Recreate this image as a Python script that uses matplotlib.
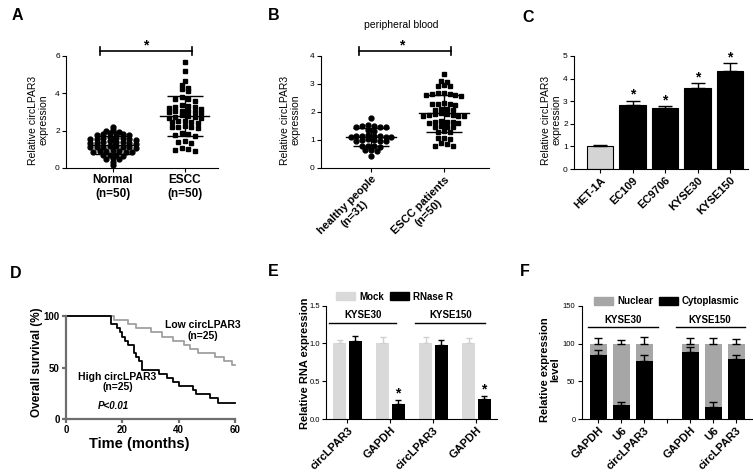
import numpy as np
import matplotlib
matplotlib.use('Agg')
import matplotlib.pyplot as plt
from matplotlib.patches import Patch

plt.rcParams['font.family'] = ['Liberation Sans', 'DejaVu Sans']

# ── data ──
# A: tissue
normal_vals = [2.2,
               2.02, 1.98, 1.95,
               1.85, 1.83, 1.8, 1.8, 1.78, 1.75,
               1.65, 1.62, 1.6, 1.6, 1.58, 1.55, 1.55, 1.52,
               1.42, 1.4, 1.4, 1.38, 1.35, 1.35, 1.32, 1.3,
               1.2, 1.18, 1.15, 1.15, 1.12, 1.1, 1.1, 1.08,
               0.95, 0.93, 0.9, 0.9, 0.88, 0.85, 0.85,
               0.72, 0.7, 0.68, 0.65,
               0.52, 0.5, 0.48,
               0.3, 0.15]
escc_vals = [5.69, 5.2, 4.68,
             4.45, 4.3, 4.25, 4.1,
             3.78, 3.72, 3.68, 3.6,
             3.35, 3.3, 3.28, 3.25, 3.22, 3.18,
             3.08, 3.05, 3.03, 3.0, 2.98, 2.95,
             2.82, 2.78, 2.75, 2.72, 2.7, 2.68,
             2.52, 2.5, 2.47, 2.45, 2.42,
             2.25, 2.22, 2.2, 2.18, 2.15,
             1.85, 1.8, 1.75, 1.72,
             1.42, 1.38, 1.35,
             1.08, 1.02, 0.95, 0.92]
a_labels = ['Normal\n(n=50)', 'ESCC\n(n=50)']

# B: peripheral blood
healthy_vals = [1.8,
                1.52, 1.5, 1.5, 1.48, 1.47, 1.45,
                1.35, 1.33,
                1.18, 1.16, 1.15, 1.14, 1.13, 1.12, 1.1, 1.1,
                1.02, 1.0, 1.0, 0.98, 0.97, 0.95,
                0.8, 0.79, 0.78, 0.76,
                0.65, 0.63, 0.6,
                0.44]
patient_vals = [3.35,
                3.1, 3.08,
                2.95, 2.93, 2.92,
                2.68, 2.67, 2.65, 2.64, 2.62, 2.6, 2.58,
                2.32, 2.3, 2.28, 2.27, 2.25,
                2.12, 2.1, 2.08, 2.06,
                1.95, 1.93, 1.92, 1.9, 1.88, 1.86, 1.85, 1.84,
                1.68, 1.66, 1.65, 1.63, 1.62, 1.6,
                1.5, 1.48, 1.46, 1.45,
                1.32, 1.3, 1.28,
                1.08, 1.06, 1.04,
                0.88, 0.85, 0.8, 0.78]
b_labels = ['healthy people\n(n=31)', 'ESCC patients\n(n=50)']

# C: cell lines
cells = ['HET-1A', 'EC109', 'EC9706', 'KYSE30', 'KYSE150']
cell_expr = [1.0, 2.83, 2.68, 3.6, 4.35]
cell_err = [0.08, 0.2, 0.12, 0.22, 0.32]

# D: Kaplan-Meier (event times, months)
n_group = 25
high_events = [16, 16, 18, 19, 20, 21, 22, 24, 24, 25, 26, 27, 27,
               33, 36, 38, 40, 45, 46, 51, 54]
low_events = [17, 22, 25, 30, 34, 38, 42, 44, 47, 53, 56, 59]

# E: RNase R
e_labels = ['circLPAR3', 'GAPDH', 'circLPAR3', 'GAPDH']
mock_vals = [1.0, 1.0, 1.0, 1.0]
mock_err = [0.05, 0.08, 0.09, 0.07]
rnase_vals = [1.03, 0.2, 0.98, 0.26]
rnase_err = [0.07, 0.05, 0.07, 0.04]

# F: nuclear / cytoplasmic
f_labels = ['GAPDH', 'U6', 'circLPAR3', 'GAPDH', 'U6', 'circLPAR3']
cyto_vals = [85, 18, 77, 89, 16, 80]
cyto_err = [7, 4, 8, 6, 7, 5]
nuc_err = [7, 5, 9, 7, 8, 6]

# ── layout helpers ──
W, H = 753, 475
fig = plt.figure(figsize=(W / 100, H / 100), dpi=100)


def box(l, t, r, b):
    return [l / W, 1 - b / H, (r - l) / W, (b - t) / H]


def fx(px):
    return px / W


def fy(py):
    return 1 - py / H


def style(ax, lw=0.8, color='black'):
    ax.spines['top'].set_visible(False)
    ax.spines['right'].set_visible(False)
    for s in ('left', 'bottom'):
        ax.spines[s].set_linewidth(lw)
        ax.spines[s].set_color(color)
    ax.tick_params(length=3, width=lw, color=color, labelsize=6, pad=1.5)


def rows(vals, binw, dx):
    """GraphPad-like scatter: points close in value sit side by side"""
    vals = np.asarray(vals, float)
    offs = np.zeros(len(vals))
    groups, cur, start = [], [], None
    for i in np.argsort(-vals):
        if start is None or start - vals[i] >= binw:
            if cur:
                groups.append(cur)
            cur, start = [i], vals[i]
        else:
            cur.append(i)
    groups.append(cur)
    for g in groups:
        k = len(g)
        pos = (np.arange(k) - (k - 1) / 2) * dx
        pos = pos[np.argsort(np.abs(pos) + 1e-6 * pos)]
        offs[g] = pos
    return offs


def dot_panel(ax, groups, dx):
    for i, (vals, mk, binw) in enumerate(groups):
        off = rows(vals, binw, dx)
        ms = 3.5 if mk == 'o' else 3.2
        ax.plot(i + off, vals, ls='none', marker=mk, ms=ms, color='black',
                mec='black', clip_on=False, zorder=2)
        m, s = np.mean(vals), np.std(vals, ddof=1)
        ax.plot([i - 0.34, i + 0.34], [m, m], color='black', lw=1, zorder=3)
        ax.errorbar(i, m, yerr=s, color='black', lw=1, capsize=13,
                    capthick=1, zorder=3)


def sig_bar(ax, x0, x1, y, h):
    ax.plot([x0, x1], [y, y], color='black', lw=1.2, clip_on=False)
    ax.plot([x0, x0], [y - h, y + h], color='black', lw=1.2, clip_on=False)
    ax.plot([x1, x1], [y - h, y + h], color='black', lw=1.2, clip_on=False)


# ── A ──
axA = fig.add_axes(box(66, 56, 218, 168))
style(axA)
dot_panel(axA, [(normal_vals, 'o', 0.15), (escc_vals, 's', 0.2)], 0.09)
axA.set_xlim(-0.65, 1.46)
axA.set_ylim(0, 6)
axA.set_yticks([0, 2, 4, 6])
axA.set_xticks([0, 1])
axA.set_xticklabels(a_labels, fontsize=8.5, fontweight='bold')
sig_bar(axA, -0.18, 1.1, 6.27, 0.2)
axA.text(0.46, 6.55, '*', ha='center', va='center', fontsize=10, fontweight='bold')
fig.text(fx(38), fy(120), 'Relative circLPAR3\nexpression', rotation=90,
         ha='center', va='center', fontsize=7.5, linespacing=1.05)

# ── B ──
axB = fig.add_axes(box(321, 56, 489, 168))
style(axB)
dot_panel(axB, [(healthy_vals, 'o', 0.12), (patient_vals, 's', 0.13)], 0.08)
axB.set_xlim(-0.685, 1.62)
axB.set_ylim(0, 4)
axB.set_yticks([0, 1, 2, 3, 4])
axB.set_xticks([0, 1])
axB.set_xticklabels(b_labels, fontsize=8, fontweight='bold', rotation=45,
                    ha='right', rotation_mode='anchor', multialignment='center')
sig_bar(axB, -0.16, 1.1, 4.18, 0.14)
axB.text(0.42, 4.37, '*', ha='center', va='center', fontsize=10, fontweight='bold')
axB.text(0.42, 5.1, 'peripheral blood', ha='center', va='center', fontsize=7.5)
fig.text(fx(290), fy(120), 'Relative circLPAR3\nexpression', rotation=90,
         ha='center', va='center', fontsize=7.5, linespacing=1.05)

# ── C ──
axC = fig.add_axes(box(574, 56, 748, 169))
style(axC)
xc = np.arange(len(cells))
colors_c = ['#d4d4d4'] + ['black'] * (len(cells) - 1)
axC.bar(xc, cell_expr, width=0.82, color=colors_c, edgecolor='black', lw=0.8,
        yerr=[np.zeros(len(cells)), cell_err], capsize=5,
        error_kw=dict(lw=1, capthick=1, ecolor='black'))
for i in range(1, len(cells)):
    axC.text(xc[i], cell_expr[i] + cell_err[i] + 0.25, '*', ha='center',
             va='center', fontsize=10, fontweight='bold')
axC.set_xlim(-0.8, 4.55)
axC.set_ylim(0, 5)
axC.set_yticks(range(6))
axC.set_xticks(xc)
axC.set_xticklabels(cells, fontsize=8, fontweight='bold', rotation=45,
                    ha='right', rotation_mode='anchor')
fig.text(fx(551), fy(120), 'Relative circLPAR3\nexpression', rotation=90,
         ha='center', va='center', fontsize=7.5, linespacing=1.0)


# ── D ──
def km(events, n, tmax=60):
    t = [0]
    s = [100.0]
    alive = n
    for e in sorted(events):
        alive -= 1
        t.append(e)
        s.append(100.0 * alive / n)
    t.append(tmax)
    s.append(s[-1])
    return t, s


axD = fig.add_axes(box(66, 316, 235, 419))
style(axD, lw=1.6, color='#6e6e6e')
t, s = km(low_events, n_group)
axD.step(t, s, where='post', color='#a0a0a0', lw=1.3, clip_on=False)
t, s = km(high_events, n_group)
axD.step(t, s, where='post', color='black', lw=1.3, clip_on=False)
axD.set_xlim(0, 60)
axD.set_ylim(0, 100)
axD.set_xticks([0, 20, 40, 60])
axD.set_yticks([0, 50, 100])
axD.tick_params(labelsize=7)
for lb in axD.get_xticklabels() + axD.get_yticklabels():
    lb.set_fontweight('bold')
axD.text(48.5, 86, 'Low circLPAR3\n(n=25)', ha='center', va='center',
         fontsize=7.5, fontweight='bold', linespacing=1.1)
axD.text(18.3, 36, 'High circLPAR3\n(n=25)', ha='center', va='center',
         fontsize=7.5, fontweight='bold', linespacing=1.1)
axD.text(16.7, 13, 'P<0.01', ha='center', va='center', fontsize=7,
         fontweight='bold', style='italic')
fig.text(fx(37), fy(362), 'Overall survival (%)', rotation=90, ha='center',
         va='center', fontsize=8.5, fontweight='bold')
fig.text(fx(139), fy(444), 'Time (months)', ha='center', va='center',
         fontsize=10.5, fontweight='bold')

# ── E ──
axE = fig.add_axes(box(326, 305.7, 497, 419))
style(axE)
axE.tick_params(labelsize=5.5)
xe = np.arange(len(e_labels))
bw, off = 0.3, 0.18
zeros = np.zeros(len(xe))
axE.bar(xe - off, mock_vals, width=bw, color='#d9d9d9',
        yerr=[zeros, mock_err], capsize=2.5,
        error_kw=dict(lw=1, capthick=1, ecolor='#d0d0d0'))
axE.bar(xe + off, rnase_vals, width=bw, color='black',
        yerr=[zeros, rnase_err], capsize=2.5,
        error_kw=dict(lw=1, capthick=1, ecolor='black'))
for i in (1, 3):
    axE.text(xe[i] + off, rnase_vals[i] + rnase_err[i] + 0.09, '*',
             ha='center', va='center', fontsize=10, fontweight='bold')
axE.set_xlim(-0.5, 3.48)
axE.set_ylim(0, 1.5)
axE.set_yticks([0, 0.5, 1.0, 1.5])
axE.set_yticklabels(['0.0', '0.5', '1.0', '1.5'])
axE.set_xticks(xe)
axE.set_xticklabels(e_labels, fontsize=8, fontweight='bold', rotation=45,
                    ha='right', rotation_mode='anchor')
for x0, x1, name in [(-0.43, 1.14, 'KYSE30'), (1.58, 3.21, 'KYSE150')]:
    axE.plot([x0, x1], [1.267, 1.267], color='black', lw=1, clip_on=False)
    axE.text((x0 + x1) / 2, 1.31, name, ha='center', va='bottom',
             fontsize=7, fontweight='bold')
axE.legend(handles=[Patch(color='#d9d9d9', label='Mock'),
                    Patch(color='black', label='RNase R')],
           loc='center', bbox_to_anchor=(0.40, 1.08), ncol=2, frameon=False,
           prop=dict(size=7, weight='bold'), handlelength=2.0,
           handleheight=0.9, columnspacing=0.6, handletextpad=0.4,
           borderpad=0, borderaxespad=0)
fig.text(fx(305), fy(363), 'Relative RNA expression', rotation=90,
         ha='center', va='center', fontsize=8, fontweight='bold')

# ── F ──
axF = fig.add_axes(box(581.7, 306, 751.7, 419))
style(axF)
axF.tick_params(labelsize=5.5)
xf = np.array([0, 1, 2, 4, 5, 6])
cyto = np.array(cyto_vals)
nuc = 100 - cyto
z = np.zeros(len(xf))
axF.bar(xf, nuc, bottom=cyto, width=0.72, color='#a6a6a6',
        yerr=[z, nuc_err], capsize=3,
        error_kw=dict(lw=1, capthick=1, ecolor='black'))
axF.bar(xf, cyto, width=0.72, color='black',
        yerr=[z, cyto_err], capsize=3,
        error_kw=dict(lw=1, capthick=1, ecolor='black'))
axF.set_xlim(-0.72, 6.67)
axF.set_ylim(0, 150)
axF.set_yticks([0, 50, 100, 150])
axF.set_xticks([0, 1, 2, 3, 4, 5, 6])
axF.set_xticklabels(f_labels[:3] + [''] + f_labels[3:], fontsize=8,
                    fontweight='bold', rotation=45, ha='right',
                    rotation_mode='anchor')
for x0, x1, name in [(-0.45, 2.58, 'KYSE30'), (3.36, 6.37, 'KYSE150')]:
    axF.plot([x0, x1], [121.7, 121.7], color='black', lw=1, clip_on=False)
    axF.text((x0 + x1) / 2, 125, name, ha='center', va='bottom',
             fontsize=7, fontweight='bold')
axF.legend(handles=[Patch(color='#a6a6a6', label='Nuclear'),
                    Patch(color='black', label='Cytoplasmic')],
           loc='center', bbox_to_anchor=(0.50, 1.044), ncol=2, frameon=False,
           prop=dict(size=7, weight='bold'), handlelength=2.0,
           handleheight=0.9, columnspacing=0.6, handletextpad=0.4,
           borderpad=0, borderaxespad=0)
fig.text(fx(550), fy(370), 'Relative expression\nlevel', rotation=90,
         ha='center', va='center', fontsize=8, fontweight='bold',
         linespacing=1.0)

# ── panel letters ──
for letter, px, py in [('A', 12, 15), ('B', 268, 15), ('C', 522, 18),
                       ('D', 10, 273), ('E', 268, 272), ('F', 520, 272)]:
    fig.text(fx(px), fy(py), letter, ha='left', va='center', fontsize=11.5,
             fontweight='bold')

fig.savefig('out.png', dpi=100)
